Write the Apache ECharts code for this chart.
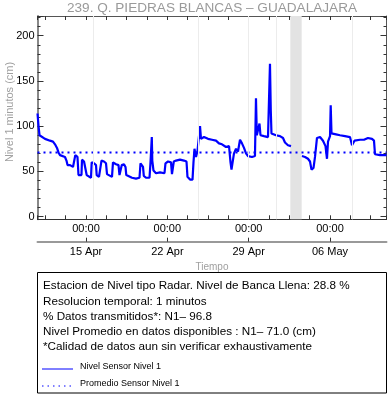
<!DOCTYPE html>
<html><head><meta charset="utf-8">
<script src="https://cdn.jsdelivr.net/npm/echarts@6/dist/echarts.min.js"></script>
<style>html,body{margin:0;padding:0;background:#fff}#c{width:388px;height:404px}</style>
</head><body><div id="c"></div>
<script>
// ---- data ----
const titleText = '239. Q. PIEDRAS BLANCAS – GUADALAJARA';
const yName = 'Nivel 1 minutos (cm)';
const xName = 'Tiempo';
const times = [
'04-10 19:50','04-10 22:00','04-11 00:00','04-11 03:00','04-11 11:20','04-11 21:40','04-12 03:50','04-12 08:00','04-12 12:05','04-12 15:10',
'04-12 18:20','04-12 22:25','04-13 04:35','04-13 07:40','04-13 09:50','04-13 15:00','04-13 21:10','04-14 00:15','04-14 01:55','04-14 04:25',
'04-14 06:25','04-14 08:30','04-14 11:35','04-14 14:40','04-14 15:45','04-14 19:55','04-15 00:00','04-15 01:25','04-15 04:10','04-15 10:20',
'04-15 11:45','04-15 16:30','04-15 20:40','04-15 22:05','04-16 02:50','04-16 05:55','04-16 08:00','04-16 13:10','04-16 17:20','04-16 19:25',
'04-16 23:30','04-17 05:40','04-17 07:45','04-17 14:00','04-17 19:10','04-17 21:10','04-18 00:20','04-18 01:55','04-18 06:30','04-18 09:35',
'04-18 11:15','04-18 14:45','04-18 23:00','04-19 07:15','04-19 14:30','04-19 16:35','04-19 19:40','04-19 21:45','04-19 23:25','04-20 03:55',
'04-20 11:10','04-20 13:15','04-20 15:20','04-20 15:55','04-20 16:55','04-20 19:25','04-21 00:35','04-21 08:50','04-21 18:05','04-21 20:10',
'04-22 01:25','04-22 07:35','04-22 09:35','04-22 11:40','04-22 13:20','04-22 17:55','04-23 02:05','04-23 10:25','04-23 15:35','04-23 17:35',
'04-23 22:50','04-24 04:00','04-24 06:00','04-24 08:05','04-24 11:10','04-24 14:20','04-24 17:25','04-24 19:30','04-24 21:30','04-25 03:40',
'04-25 12:00','04-25 20:15','04-26 04:30','04-26 10:40','04-26 16:55','04-27 01:10','04-27 07:25','04-27 10:30','04-27 12:30','04-27 15:35',
'04-27 17:40','04-27 21:50','04-28 01:55','04-28 06:05','04-28 10:10','04-28 14:20','04-28 18:30','04-28 22:35','04-29 06:55','04-29 13:00',
'04-29 15:05','04-29 16:50','04-29 19:15','04-29 22:20','04-30 00:25','04-30 07:35','04-30 15:55','04-30 19:00','04-30 20:00','04-30 21:40',
'04-30 23:05','05-01 08:25','05-01 16:40','05-01 22:55','05-02 03:00','05-02 09:10','05-02 15:25','05-02 20:00','05-03 14:05','05-03 20:20',
'05-04 02:30','05-04 06:40','05-04 09:45','05-04 13:55','05-04 17:00','05-04 21:05','05-05 03:20','05-05 09:30','05-05 14:40','05-05 17:45',
'05-05 19:50','05-06 00:00','05-06 01:25','05-06 03:05','05-06 12:25','05-06 20:35','05-07 06:55','05-07 17:15','05-07 21:25','05-08 02:35',
'05-08 13:55','05-08 22:10','05-09 06:25','05-09 14:40','05-09 18:50','05-09 20:55','05-10 07:10','05-10 20:40'
];
const levels = [
114,100,90,88,86,84,83,80,76,71,
68,67,66,62,57,57,55,56,68,70,
66,46,44,46,63,61,60,46,44,43,
60,59,57,46,44,45,62,61,59,47,
45,44,60,58,57,46,44,57,58,55,
46,44,43,42,43,59,57,55,45,43,
43,60,62,88,62,51,48,49,48,59,
61,60,47,48,61,62,63,62,61,44,
41,41,60,75,66,73,72,100,86,88,
86,85,84,81,80,77,78,60,52,54,
70,75,72,85,81,76,70,67,66,67,
131,90,92,103,90,89,88,90,169,117,
92,90,89,87,82,79,78,null,67,66,
64,61,52,54,66,87,88,84,78,64,
83,89,123,92,91,90,89,88,79,84,
85,85,87,86,84,69,68,68
];
const meanLevel = 71.0;
const gridDates = ['04-15 15:05','04-24 16:00','04-29 00:30','05-01 09:50','05-07 20:45'];
const gapBand = ['05-02 14:00','05-03 13:30'];
const yMin = -2.9, yMax = 221.8;
const infoLines = [
'Estacion de Nivel tipo Radar. Nivel de Banca Llena: 28.8 %',
'Resolucion temporal: 1 minutos',
'% Datos transmitidos*: N1– 96.8',
'Nivel Promedio en datos disponibles : N1– 71.0 (cm)',
'*Calidad de datos aun sin verificar exhaustivamente'
];
const legendNames = ['Nivel Sensor Nivel 1','Promedio Sensor Nivel 1'];
const monthNames = ['Jan','Feb','Mar','Apr','May','Jun','Jul','Aug','Sep','Oct','Nov','Dec'];
const YEAR = 2024;

// ---- helpers ----
const REF = Date.UTC(YEAR,3,15);
const WEEK = 7*864e5;
function toW(s){
  const [md,hm] = s.split(' ');
  const [mo,d] = md.split('-').map(Number);
  const [h,m] = hm.split(':').map(Number);
  return (Date.UTC(YEAR,mo-1,d,h,m)-REF)/WEEK;
}
function isWhole(v){ return Math.abs(v-Math.round(v))<1e-6; }
function dateLabel(v){
  if(!isWhole(v)) return '';
  const dt = new Date(REF + Math.round(v)*WEEK);
  return String(dt.getUTCDate()).padStart(2,'0')+' '+monthNames[dt.getUTCMonth()];
}
const XMIN = toW(times[0]);
const XMAX = toW(times[times.length-1]);
const FONT = 'Liberation Sans, Arial, Helvetica, sans-serif';
const seriesData = times.map((t,i)=>[toW(t), levels[i]]);

const frameX = (pos, line) => ({
  type:'value', min:XMIN, max:XMAX, position:pos, splitNumber:4,
  axisLine:{show:true, onZero:false, lineStyle:line},
  axisTick:{show:true, inside:true, length:4, lineStyle:{color:'#333'}},
  minorTick:{show:true, splitNumber:4, length:4, lineStyle:{color:'#333'}},
  axisLabel:{show:false}, splitLine:{show:false}
});
const frameY = (pos, line, labels) => ({
  type:'value', min:yMin, max:yMax, position:pos, splitNumber:5,
  axisLine:{show:true, onZero:false, lineStyle:line},
  axisTick:{show:true, inside:true, length:6, lineStyle:{color:'#333'}},
  minorTick:{show:true, splitNumber:5, length:3, lineStyle:{color:'#333'}},
  axisLabel:{show:labels, margin:3, fontSize:11, color:'#000', fontFamily:FONT,
    formatter:v=> isWhole(v/50) ? String(Math.round(v)) : ''},
  splitLine:{show:false}
});

const chart = echarts.init(document.getElementById('c'), null, {renderer:'canvas'});
const g = [];
g.push({type:'text', x:10, y:112, rotation:Math.PI/2,
  style:{text:yName, fill:'#a0a0a0', font:'11px '+FONT, textAlign:'center', textVerticalAlign:'middle'}});
g.push({type:'rect', shape:{x:37.5, y:272.5, width:349, height:120.5},
  style:{fill:'#fff', stroke:'#000', lineWidth:1}});
infoLines.forEach((s,i)=>{
  g.push({type:'text', x:43, y:286+i*15.3,
    style:{text:s, fill:'#000', font:'11.7px '+FONT, textVerticalAlign:'middle'}});
});
g.push({type:'line', shape:{x1:42, y1:369, x2:73, y2:369}, style:{stroke:'#0000ff', lineWidth:1}});
g.push({type:'line', shape:{x1:42, y1:386, x2:73, y2:386}, style:{stroke:'#0000ff', lineWidth:1, lineDash:[1.5,4]}});
g.push({type:'text', x:80, y:366.5, style:{text:legendNames[0], fill:'#000', font:'9px '+FONT, textVerticalAlign:'middle'}});
g.push({type:'text', x:80, y:383.3, style:{text:legendNames[1], fill:'#000', font:'9px '+FONT, textVerticalAlign:'middle'}});

chart.setOption({
  animation:false,
  backgroundColor:'#fff',
  title:{text:titleText, left:212, top:0, padding:0, textAlign:'center',
    textStyle:{fontSize:13.6, fontWeight:'normal', color:'#9a9a9a', fontFamily:FONT, lineHeight:16}},
  grid:{left:37.5, right:1.5, top:16, bottom:184.7, containLabel:false},
  xAxis:[
    frameX('bottom', {color:'#333', width:1}),
    frameX('top', {color:'#555', width:1}),
    {type:'value', min:XMIN, max:XMAX, position:'bottom', offset:22.4, splitNumber:4,
      axisLine:{show:true, onZero:false, lineStyle:{color:'#999', width:2}},
      axisTick:{show:true, inside:true, length:4, lineStyle:{color:'#333'}},
      axisLabel:{show:true, inside:true, margin:7, fontSize:11, color:'#000', fontFamily:FONT,
        showMinLabel:false, showMaxLabel:false, formatter:v=> isWhole(v)?'00:00':''},
      splitLine:{show:false}},
    {type:'value', min:XMIN, max:XMAX, position:'bottom', offset:22.4, splitNumber:4,
      axisLine:{show:false}, axisTick:{show:false},
      axisLabel:{show:true, margin:5, fontSize:11, color:'#000', fontFamily:FONT,
        showMinLabel:false, showMaxLabel:false, formatter:dateLabel},
      name:xName, nameLocation:'middle', nameGap:17.5,
      nameTextStyle:{fontSize:10, color:'#a0a0a0', fontFamily:FONT},
      splitLine:{show:false}}
  ],
  yAxis:[
    frameY('left', {color:'#888', width:2}, true),
    frameY('right', {color:'#555', width:1}, false)
  ],
  series:[
    {name:legendNames[0], type:'line', xAxisIndex:0, yAxisIndex:0, data:seriesData,
      showSymbol:false, symbol:'none', connectNulls:false,
      lineStyle:{color:'#0000ff', width:2.2}, z:3,
      markLine:{silent:true, symbol:'none', label:{show:false},
        lineStyle:{color:'#ececec', width:1, type:'solid'},
        data: gridDates.map(d=>({xAxis:toW(d)}))},
      markArea:{silent:true, itemStyle:{color:'#e3e3e3'},
        data:[[{xAxis:toW(gapBand[0])},{xAxis:toW(gapBand[1])}]]}
    },
    {name:legendNames[1], type:'line', xAxisIndex:0, yAxisIndex:0,
      data:[[XMIN, meanLevel],[XMAX, meanLevel]], showSymbol:false, symbol:'none',
      lineStyle:{color:'#0000ff', width:2, type:[2,4]}, z:4}
  ],
  graphic:g
});
</script></body></html>
